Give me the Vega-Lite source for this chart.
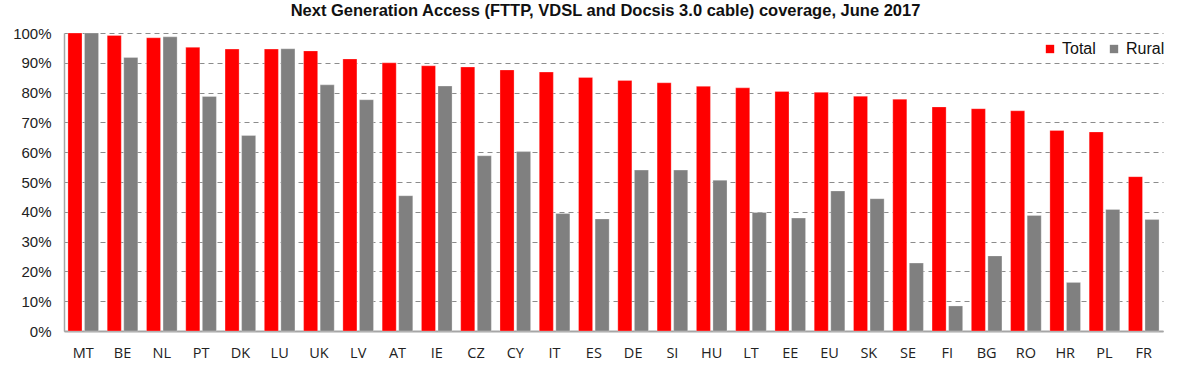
{
  "$schema": "https://vega.github.io/schema/vega-lite/v6.json",
  "autosize": "none",
  "width": 1099,
  "height": 298,
  "padding": {"left": 64, "top": 33, "right": 17, "bottom": 34},
  "background": "white",
  "title": {
    "text": "Next Generation Access (FTTP, VDSL and Docsis 3.0 cable) coverage, June 2017",
    "font": "Liberation Sans",
    "fontSize": 16.5,
    "fontWeight": "bold",
    "color": "#111111",
    "offset": 7,
    "anchor": "middle",
    "dx": -8
  },
  "data": {
    "values": [
      {"country": "MT", "type": "Total", "value": 100}, {"country": "MT", "type": "Rural", "value": 100},
      {"country": "BE", "type": "Total", "value": 99.2}, {"country": "BE", "type": "Rural", "value": 91.8},
      {"country": "NL", "type": "Total", "value": 98.4}, {"country": "NL", "type": "Rural", "value": 98.7},
      {"country": "PT", "type": "Total", "value": 95.2}, {"country": "PT", "type": "Rural", "value": 78.7},
      {"country": "DK", "type": "Total", "value": 94.6}, {"country": "DK", "type": "Rural", "value": 65.6},
      {"country": "LU", "type": "Total", "value": 94.6}, {"country": "LU", "type": "Rural", "value": 94.7},
      {"country": "UK", "type": "Total", "value": 94.0}, {"country": "UK", "type": "Rural", "value": 82.6},
      {"country": "LV", "type": "Total", "value": 91.3}, {"country": "LV", "type": "Rural", "value": 77.6},
      {"country": "AT", "type": "Total", "value": 90.0}, {"country": "AT", "type": "Rural", "value": 45.4},
      {"country": "IE", "type": "Total", "value": 89.0}, {"country": "IE", "type": "Rural", "value": 82.2},
      {"country": "CZ", "type": "Total", "value": 88.6}, {"country": "CZ", "type": "Rural", "value": 58.8},
      {"country": "CY", "type": "Total", "value": 87.6}, {"country": "CY", "type": "Rural", "value": 60.2},
      {"country": "IT", "type": "Total", "value": 86.9}, {"country": "IT", "type": "Rural", "value": 39.4},
      {"country": "ES", "type": "Total", "value": 85.1}, {"country": "ES", "type": "Rural", "value": 37.6},
      {"country": "DE", "type": "Total", "value": 84.1}, {"country": "DE", "type": "Rural", "value": 54.0},
      {"country": "SI", "type": "Total", "value": 83.3}, {"country": "SI", "type": "Rural", "value": 54.0},
      {"country": "HU", "type": "Total", "value": 82.1}, {"country": "HU", "type": "Rural", "value": 50.6},
      {"country": "LT", "type": "Total", "value": 81.6}, {"country": "LT", "type": "Rural", "value": 39.8},
      {"country": "EE", "type": "Total", "value": 80.4}, {"country": "EE", "type": "Rural", "value": 37.9},
      {"country": "EU", "type": "Total", "value": 80.1}, {"country": "EU", "type": "Rural", "value": 47.0},
      {"country": "SK", "type": "Total", "value": 78.8}, {"country": "SK", "type": "Rural", "value": 44.4},
      {"country": "SE", "type": "Total", "value": 77.8}, {"country": "SE", "type": "Rural", "value": 22.8},
      {"country": "FI", "type": "Total", "value": 75.2}, {"country": "FI", "type": "Rural", "value": 8.4},
      {"country": "BG", "type": "Total", "value": 74.6}, {"country": "BG", "type": "Rural", "value": 25.2},
      {"country": "RO", "type": "Total", "value": 73.9}, {"country": "RO", "type": "Rural", "value": 38.8},
      {"country": "HR", "type": "Total", "value": 67.3}, {"country": "HR", "type": "Rural", "value": 16.3},
      {"country": "PL", "type": "Total", "value": 66.8}, {"country": "PL", "type": "Rural", "value": 40.8},
      {"country": "FR", "type": "Total", "value": 51.8}, {"country": "FR", "type": "Rural", "value": 37.4}
    ]
  },
  "mark": {"type": "bar", "strokeWidth": 0.8, "strokeOpacity": 0.35, "stroke": "#ffffff"},
  "encoding": {
    "x": {
      "field": "country",
      "type": "nominal",
      "sort": null,
      "scale": {"paddingInner": 0.22, "paddingOuter": 0.1},
      "axis": {
        "title": null,
        "labelAngle": 0,
        "labelFont": "Open Sans",
        "labelFontSize": 14.5,
        "labelColor": "#222222",
        "labelPadding": 15,
        "ticks": false,
        "domainColor": "#a6a6a6",
        "domainWidth": 2,
        "grid": false
      }
    },
    "xOffset": {
      "field": "type",
      "type": "nominal",
      "sort": ["Total", "Rural"],
      "scale": {"paddingInner": 0.15}
    },
    "y": {
      "field": "value",
      "type": "quantitative",
      "scale": {"domain": [0, 100], "nice": false},
      "axis": {
        "title": null,
        "values": [0, 10, 20, 30, 40, 50, 60, 70, 80, 90, 100],
        "labelExpr": "datum.value + '%'",
        "labelFont": "Liberation Sans",
        "labelFontSize": 15,
        "labelColor": "#222222",
        "labelPadding": 13,
        "ticks": false,
        "domainColor": "#a6a6a6",
        "domainWidth": 1.5,
        "gridColor": "#8c8c8c",
        "gridDash": [5, 4],
        "gridWidth": 1
      }
    },
    "color": {
      "field": "type",
      "type": "nominal",
      "scale": {"domain": ["Total", "Rural"], "range": ["#ff0000", "#808080"]},
      "legend": {
        "title": null,
        "orient": "none",
        "legendX": 978,
        "legendY": 8,
        "direction": "horizontal",
        "symbolType": "square",
        "symbolSize": 70,
        "symbolStrokeWidth": 0,
        "labelFont": "Liberation Sans",
        "labelFontSize": 16,
        "labelColor": "#111111",
        "labelOffset": 4,
        "columnPadding": 10
      }
    }
  },
  "config": {"view": {"stroke": null}}
}
